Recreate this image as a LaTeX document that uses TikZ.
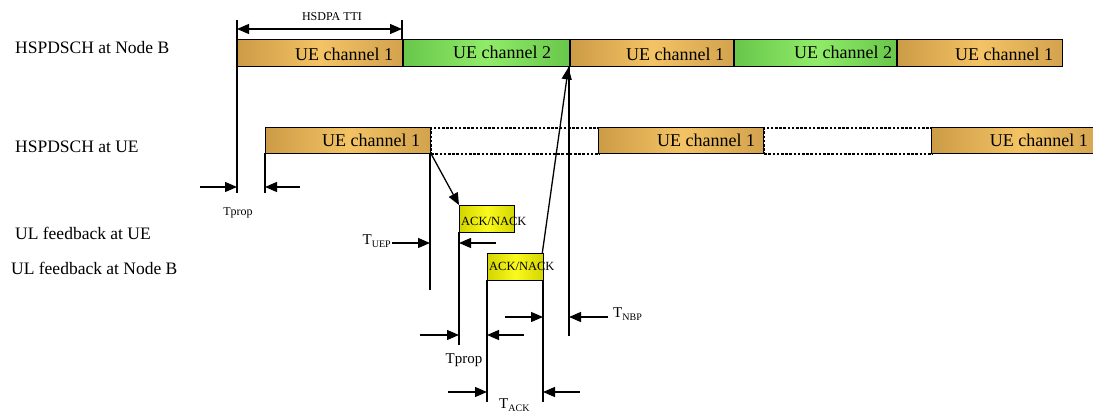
\documentclass[tikz,border=0pt]{standalone}
\usepackage{fontspec}
\setmainfont{Liberation Serif}
\usetikzlibrary{arrows.meta}
\definecolor{ochreA}{RGB}{204,155,70}
\definecolor{ochreB}{RGB}{243,195,100}
\definecolor{ochreC}{RGB}{210,162,78}
\definecolor{grnA}{RGB}{104,198,74}
\definecolor{grnB}{RGB}{144,236,104}
\definecolor{ylwA}{RGB}{212,212,0}
\definecolor{ylwB}{RGB}{250,250,30}
\tikzset{
  slot/.style={draw=black, line width=1.4pt, minimum height=27pt, inner sep=0pt, anchor=north west},
  ochrebox/.style={slot, left color=ochreA, right color=ochreC, middle color=ochreB},
  greenbox/.style={slot, left color=grnA, right color=grnA, middle color=grnB},
  emptyslot/.style={draw=black, line width=2.2pt, dash pattern=on 2.6pt off 1.6pt, minimum height=26pt, inner sep=0pt, anchor=north west},
  ackbox/.style={draw=black, line width=1.3pt, left color=ylwA, right color=ylwA, middle color=ylwB, minimum width=55pt, minimum height=27pt, inner sep=0pt, anchor=north west},
  boxtxt/.style={inner sep=0pt, font=\fontsize{18}{18}\selectfont},
  rowlab/.style={inner sep=0pt, anchor=west, font=\fontsize{17.5}{18}\selectfont},
  acktxt/.style={inner sep=0pt, anchor=west, font=\fontsize{12.5}{13}\selectfont},
  smalltxt/.style={inner sep=0pt, font=\fontsize{12}{12}\selectfont},
  midtxt/.style={inner sep=0pt, font=\fontsize{15}{15}\selectfont},
  tick/.style={line width=1.3pt},
  arr/.style={line width=1.3pt, -{Triangle[length=12pt,width=10pt]}},
  dblarr/.style={line width=1.3pt, {Triangle[length=12pt,width=10pt]}-{Triangle[length=12pt,width=10pt]}}
}
\newcommand{\subT}[1]{T\raisebox{-0.45ex}{\fontsize{10}{10}\selectfont #1}}
\begin{document}
\begin{tikzpicture}[x=1pt,y=-1pt]
\useasboundingbox (0,0) rectangle (1093,414);

% row labels
\node[rowlab] (labNB) at (15,48) {HSPDSCH at Node B};
\node[rowlab] (labUE) at (15,147) {HSPDSCH at UE};
\node[rowlab] (labFU) at (15,233) {UL feedback at UE};
\node[rowlab] (labFN) at (11,268) {UL feedback at Node B};

% vertical reference lines
\coordinate (aT) at (237,20);  \coordinate (aB) at (237,193);
\coordinate (bT) at (402,20);  \coordinate (bB) at (402,39);
\coordinate (cT) at (265,153); \coordinate (cB) at (265,193);
\coordinate (dT) at (430,153); \coordinate (dB) at (430,290);
\coordinate (eT) at (459,232); \coordinate (eB) at (459,345);
\coordinate (fT) at (487,280); \coordinate (fB) at (487,402);
\coordinate (gT) at (543,280); \coordinate (gB) at (543,402);
\coordinate (hT) at (569,66);  \coordinate (hB) at (569,336);
\draw[tick] (aT) -- (aB);
\draw[tick] (bT) -- (bB);
\draw[tick] (cT) -- (cB);
\draw[tick] (dT) -- (dB);
\draw[tick] (eT) -- (eB);
\draw[tick] (fT) -- (fB);
\draw[tick] (gT) -- (gB);
\draw[tick] (hT) -- (hB);

% HSDPA TTI
\coordinate (ttiL) at (237,29); \coordinate (ttiR) at (402,29);
\draw[dblarr] (ttiL) -- (ttiR);
\node[smalltxt] (tti) at (332,17) {HSDPA TTI};

% Node B row
\node[ochrebox, minimum width=165pt] (b1) at (237,39) {};
\node[greenbox, minimum width=166pt] (b2) at (403,39) {};
\node[ochrebox, minimum width=163pt] (b3) at (570,39) {};
\node[greenbox, minimum width=162pt] (b4) at (734,39) {};
\node[ochrebox, minimum width=165pt] (b5) at (897,39) {};
\node[boxtxt, anchor=east] (b1t) at ([xshift=-10pt,yshift=-1pt]b1.east) {UE channel 1};
\node[boxtxt, anchor=east] (b2t) at ([xshift=-19pt,yshift=1pt]b2.east) {UE channel 2};
\node[boxtxt, anchor=east] (b3t) at ([xshift=-10pt,yshift=-1pt]b3.east) {UE channel 1};
\node[boxtxt, anchor=east] (b4t) at ([xshift=-5pt,yshift=1pt]b4.east) {UE channel 2};
\node[boxtxt, anchor=east] (b5t) at ([xshift=-10pt,yshift=-1pt]b5.east) {UE channel 1};

% UE row
\node[emptyslot, minimum width=168pt] (d1) at (430,127) {};
\node[emptyslot, minimum width=168pt] (d2) at (763,127) {};
\node[ochrebox, minimum width=165pt, minimum height=26pt] (u1) at (265,127) {};
\node[ochrebox, minimum width=165pt, minimum height=26pt] (u2) at (598,127) {};
\node[ochrebox, minimum width=175pt, minimum height=26pt] (u3) at (931,127) {};
\node[boxtxt, anchor=east] (u1t) at ([xshift=-11pt]u1.east) {UE channel 1};
\node[boxtxt, anchor=east] (u2t) at ([xshift=-9pt]u2.east) {UE channel 1};
\node[boxtxt, anchor=east] (u3t) at (1088,140) {UE channel 1};

% ACK/NACK boxes
\node[ackbox] (ackU) at (459,205) {};
\node[ackbox, minimum width=56pt] (ackB) at (487,253) {};
\node[acktxt] (ackUt) at (461,221) {ACK/NACK};
\node[acktxt] (ackBt) at (489,266) {ACK/NACK};

% signalling arrows
\draw[arr] (u1.south east) -- (ackU.north west);
\draw[arr] ([xshift=-2pt]ackB.north east) -- ([xshift=-2pt]b2.south east);

% Tprop at top
\coordinate (p1s) at (200,187); \coordinate (p1e) at (237,187);
\coordinate (p2s) at (300,187); \coordinate (p2e) at (265,187);
\draw[arr] (p1s) -- (p1e);
\draw[arr] (p2s) -- (p2e);
\node[smalltxt] (tprop1) at (238,213) {Tprop};

% T_UEP
\coordinate (q1s) at (392,243); \coordinate (q1e) at (430,243);
\coordinate (q2s) at (496,243); \coordinate (q2e) at (459,243);
\draw[arr] (q1s) -- (q1e);
\draw[arr] (q2s) -- (q2e);
\node[midtxt, anchor=east] (tuep) at (391,241) {\subT{UEP}};

% Tprop bottom
\coordinate (r1s) at (420,335); \coordinate (r1e) at (459,335);
\coordinate (r2s) at (524,335); \coordinate (r2e) at (487,335);
\draw[arr] (r1s) -- (r1e);
\draw[arr] (r2s) -- (r2e);
\node[midtxt] (tprop2) at (464,360) {Tprop};

% T_NBP
\coordinate (s1s) at (505,317); \coordinate (s1e) at (543,317);
\coordinate (s2s) at (608,317); \coordinate (s2e) at (569,317);
\draw[arr] (s1s) -- (s1e);
\draw[arr] (s2s) -- (s2e);
\node[midtxt, anchor=west] (tnbp) at (613,314) {\subT{NBP}};

% T_ACK
\coordinate (t1s) at (448,392); \coordinate (t1e) at (487,392);
\coordinate (t2s) at (580,392); \coordinate (t2e) at (543,392);
\draw[arr] (t1s) -- (t1e);
\draw[arr] (t2s) -- (t2e);
\node[midtxt, anchor=base west] (tack) at (499,408) {\subT{ACK}};
\end{tikzpicture}
\end{document}
